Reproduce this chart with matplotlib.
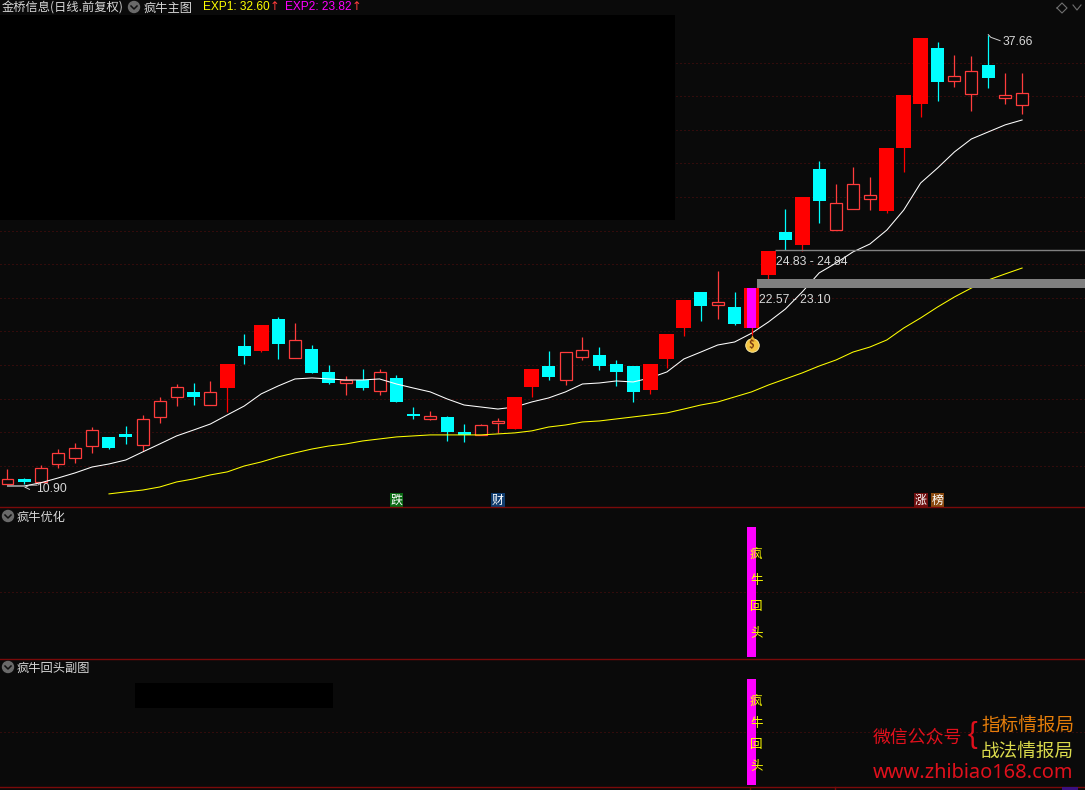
import matplotlib
matplotlib.use('Agg')
import matplotlib.pyplot as plt
from matplotlib.patches import Rectangle, Ellipse

plt.rcParams['font.family'] = ['Noto Sans CJK SC', 'DejaVu Sans']

# Daily candles
opens = [10.92, 11.22, 11.04, 12.11, 12.47, 13.18, 13.72, 13.90, 13.24, 14.91,
         16.10, 16.40, 15.62, 16.63, 19.13, 18.83, 20.74, 18.42, 18.95, 17.59,
         16.93, 17.11, 16.45, 17.23, 15.09, 14.79, 14.91, 14.02, 13.84, 14.55,
         14.19, 16.69, 17.94, 17.11, 18.48, 18.60, 18.06, 17.94, 16.51, 18.36,
         20.20, 22.35, 21.57, 21.45, 20.20, 23.36, 25.92, 25.14, 29.66, 26.03,
         27.28, 27.88, 27.17, 30.91, 33.53, 36.86, 34.90, 34.13, 35.85, 33.89, 33.47]
closes = [11.22, 11.04, 11.87, 12.77, 13.06, 14.13, 13.06, 13.72, 14.79, 15.86,
          16.69, 16.10, 16.40, 18.06, 18.54, 20.38, 19.25, 19.49, 17.53, 16.93,
          17.11, 16.63, 17.59, 15.80, 14.97, 14.97, 14.02, 13.84, 14.43, 14.67,
          16.10, 17.76, 17.29, 18.77, 18.89, 17.94, 17.59, 16.40, 18.06, 19.85,
          21.87, 21.51, 21.75, 20.44, 22.57, 24.77, 25.44, 28.00, 27.76, 27.64,
          28.77, 28.12, 30.91, 34.07, 37.46, 34.84, 35.20, 35.50, 35.08, 34.07, 34.19]
highs = [11.81, 11.28, 12.05, 13.00, 13.36, 14.31, 13.72, 14.37, 15.03, 16.10,
         16.87, 16.93, 17.05, 18.06, 19.85, 20.38, 20.86, 20.50, 19.19, 18.00,
         17.35, 17.76, 17.76, 17.41, 15.50, 15.27, 14.97, 14.49, 14.49, 14.85,
         16.10, 17.76, 18.83, 18.77, 19.67, 19.07, 18.30, 17.94, 18.06, 19.85,
         21.87, 22.35, 23.60, 22.35, 22.57, 24.77, 27.28, 28.00, 30.14, 28.77,
         29.78, 29.19, 30.91, 34.07, 37.46, 37.22, 36.45, 36.39, 37.66, 35.38, 35.38]
lows = [10.92, 10.90, 11.04, 11.87, 12.17, 12.77, 13.00, 13.30, 12.89, 14.55,
        15.56, 15.62, 15.62, 15.21, 18.06, 18.77, 18.36, 18.42, 17.53, 16.87,
        16.22, 16.51, 16.22, 15.80, 14.79, 14.73, 13.48, 13.42, 13.84, 13.96,
        14.19, 16.10, 17.11, 16.81, 18.30, 17.70, 16.75, 15.80, 16.28, 17.82,
        19.73, 20.62, 20.74, 20.38, 19.79, 23.06, 24.84, 24.77, 26.45, 26.03,
        27.28, 27.22, 27.05, 29.49, 32.76, 33.71, 34.54, 33.12, 34.48, 33.53, 32.94]
# up days drawn as filled bars instead of hollow boxes
solid_days = [13, 15, 30, 31, 38, 39, 40, 44, 45, 47, 52, 53, 54]

# EXP1 (white) from the first day, EXP2 (yellow) from day 6
exp1 = [10.80, 10.80, 11.00, 11.28, 11.58, 11.93, 12.11, 12.35, 12.83, 13.30,
        13.78, 14.13, 14.49, 15.03, 15.56, 16.28, 16.75, 17.17, 17.23, 17.17,
        17.11, 17.11, 17.17, 16.87, 16.63, 16.40, 15.98, 15.62, 15.50, 15.38,
        15.50, 15.80, 16.04, 16.40, 16.87, 16.93, 17.05, 16.99, 17.23, 17.59,
        18.36, 18.77, 19.19, 19.37, 19.89, 20.56, 21.33, 22.35, 23.48, 24.07,
        24.73, 25.20, 26.03, 27.22, 28.83, 29.72, 30.68, 31.45, 31.87, 32.29, 32.58]
exp2 = [10.33, 10.45, 10.56, 10.74, 11.04, 11.22, 11.46, 11.64, 11.99, 12.23,
        12.53, 12.77, 13.00, 13.18, 13.30, 13.48, 13.60, 13.72, 13.78, 13.84,
        13.84, 13.84, 13.84, 13.90, 13.96, 14.08, 14.31, 14.43, 14.61, 14.67,
        14.79, 14.91, 15.03, 15.15, 15.38, 15.62, 15.80, 16.10, 16.40, 16.81,
        17.17, 17.53, 17.94, 18.30, 18.77, 19.07, 19.49, 20.20, 20.80, 21.45,
        22.05, 22.58, 23.06, 23.42, 23.77]
exp2_start = 6

price_grid = [12, 14, 16, 18, 20, 22, 24, 26, 28, 30, 32, 34, 36]
signal_day = 44
zone_low = [22.57, 23.10]
zone_high = [24.83, 24.84]
signal_chars = ['疯', '牛', '回', '头']
badge_days = [23, 29, 54, 55]
badge_chars = ['跌', '财', '涨', '榜']
badge_colors = ['#0a6a14', '#0f3c6e', '#6e0f0f', '#8a4a10']

W, H = 1085, 790
BG = '#0a0a0a'
RED = '#ff3c3c'
LINE = '#7a0a0a'
GRID = '#5a0f0f'
STEP = 16.91  # pixels per day
XLIM = (-7.5 / STEP, (W - 7.5) / STEP)
DOTS = (0, (1, 3))


def panel(top, bottom, ylim):
    a = fig.add_axes([0, 1 - bottom / H, 1, (bottom - top) / H], facecolor=BG)
    a.set_xlim(*XLIM)
    a.set_ylim(*ylim)
    a.axis('off')
    return a


def label(x, y, s, color='#d8d8d8', size=8.8, **kw):
    # x, y in picture pixels
    kw.setdefault('va', 'center')
    fig.text(x / W, 1 - y / H, s, color=color, fontsize=size, **kw)


def chevron(x, y):
    fig.add_artist(Ellipse((x / W, 1 - y / H), 11 / W, 11 / H, color='#6a6a6a',
                           transform=fig.transFigure, zorder=5))
    fig.add_artist(plt.Line2D([(x - 3) / W, x / W, (x + 3) / W],
                              [1 - (y - 1) / H, 1 - (y + 2) / H, 1 - (y - 1) / H],
                              color='#101010', lw=1.1, zorder=6))


fig = plt.figure(figsize=(W / 100, H / 100), dpi=100, facecolor=BG)

# Main panel -----------------------------------------------------------------
ax = panel(0, 507, (9.55, 39.72))
ax.hlines(price_grid, *XLIM, color=GRID, lw=0.72, linestyles=DOTS, zorder=1)

days = list(range(len(opens)))
for i in days:
    up = closes[i] >= opens[i]
    solid = i in solid_days
    col = '#00ffff' if not up else ('#ff0000' if solid else RED)
    z = 4 if solid else 2
    ax.vlines(i, lows[i], highs[i], color=col, lw=0.9, zorder=z - 0.5)
    low_body, high_body = min(opens[i], closes[i]), max(opens[i], closes[i])
    if up and not solid:
        ax.bar(i, high_body - low_body, bottom=low_body, width=12 / STEP,
               facecolor=BG, edgecolor=RED, linewidth=0.9, zorder=z)
    else:
        ax.bar(i, high_body - low_body, bottom=low_body,
               width=(15 if solid else 13) / STEP, color=col, linewidth=0, zorder=z)

ax.plot(days, exp1, color='#ffffff', lw=0.75, zorder=3)
ax.plot(days[exp2_start:], exp2, color='#ffff00', lw=0.75, zorder=3)

# signal day: magenta core inside the red bar
ax.bar(signal_day, closes[signal_day] - opens[signal_day], bottom=opens[signal_day],
       width=9 / STEP, color='#ff00ff', linewidth=0, zorder=5)

# support zones run from the signal out to the right edge
ax.fill_between([signal_day + 0.35, XLIM[1]], zone_low[0], zone_low[1],
                color='#808080', linewidth=0, zorder=6)
ax.hlines(zone_high[0], signal_day + 1.4, XLIM[1], color='#808080', lw=1.0, zorder=6)
ax.text(signal_day + 0.45, 21.88, '%.2f - %.2f' % tuple(zone_low), color='#d8d8d8',
        fontsize=8.7, family='Liberation Sans', va='center', zorder=7)
ax.text(signal_day + 1.45, 24.12, '%.2f - %.2f' % tuple(zone_high), color='#d8d8d8',
        fontsize=8.7, family='Liberation Sans', va='center', zorder=7)

# high and low callouts
ax.plot([58, 58.15, 58.7], [37.66, 37.5, 37.3], color='#d0d0d0', lw=0.7, zorder=7)
ax.text(58.85, 37.25, '%.2f' % max(highs), color='#d8d8d8', fontsize=8.7,
        family='Liberation Sans', va='center', zorder=7)
ax.plot([1.05, 1.3, 1.75], [10.72, 10.85, 10.85], color='#d0d0d0', lw=0.7, zorder=7)
ax.plot([1.05, 1.3], [10.72, 10.6], color='#d0d0d0', lw=0.7, zorder=7)
ax.text(1.72, 10.65, '%.2f' % min(lows), color='#d8d8d8', fontsize=8.7,
        family='Liberation Sans', va='center', zorder=7)

# money bag under the signal day
ax.scatter(signal_day, 19.2, s=95, color='#f5c542', edgecolor='#fff2b0', lw=0.6, zorder=8)
ax.scatter(signal_day, 19.62, s=22, marker='^', color='#e8b030', lw=0, zorder=8)
ax.text(signal_day, 19.18, '$', color='#7a3a10', fontsize=6.8, fontweight='bold',
        ha='center', va='center', zorder=9)

# news badges along the bottom of the panel
for d, s, bg in zip(badge_days, badge_chars, badge_colors):
    ax.text(d, 9.93, s, color='#ffffff', fontsize=8.6, ha='center', va='center', zorder=7,
            bbox=dict(boxstyle='square,pad=0.08', fc=bg, ec='none'))

# Lower panels ---------------------------------------------------------------
ax2 = panel(507, 659, (-0.015, 1.154))
ax3 = panel(659, 787, (-0.019, 1.189))
for a in (ax2, ax3):
    a.hlines(0.5, *XLIM, color=GRID, lw=0.72, linestyles=DOTS, zorder=1)
    a.bar(signal_day, 1, width=9 / STEP, color='#ff00ff', linewidth=0, zorder=2)
    for s, y in zip(signal_chars, [0.785, 0.585, 0.385, 0.185]):
        a.text(signal_day + 0.27, y, s, color='#ffff00', fontsize=9,
               ha='center', va='center', zorder=3)

# panel borders and redaction blocks
for y in (507, 659, 787):
    fig.add_artist(plt.Line2D([0, 1], [1 - y / H, 1 - y / H], color=LINE, lw=1.0, zorder=4))
for x, y, w, h in [(0, 15, 675, 205), (135, 683, 198, 25)]:
    fig.add_artist(Rectangle((x / W, 1 - (y + h) / H), w / W, h / H, color='#000000',
                             lw=0, transform=fig.transFigure, zorder=4))
fig.add_artist(Rectangle((1062 / W, 0), 16 / W, 3 / H, color='#3a1080', lw=0,
                         transform=fig.transFigure, zorder=4))
for x in (750, 835):
    fig.add_artist(plt.Line2D([x / W, x / W], [0, 3 / H], color=LINE, lw=1.0, zorder=4))

# Header ---------------------------------------------------------------------
label(2, 8, '金桥信息(日线.前复权)', size=8.8)
chevron(134, 7)
label(144, 8, '疯牛主图', size=8.8)
label(203, 7, 'EXP1: 32.60', color='#ffff00', size=8.6, family='Liberation Sans')
label(270, 7, '↑', color=RED, size=8.4, family='DejaVu Sans')
label(285, 7, 'EXP2: 23.82', color='#ff00ff', size=8.6, family='Liberation Sans')
label(352, 7, '↑', color=RED, size=8.4, family='DejaVu Sans')
fig.add_artist(plt.Line2D([1057 / W, 1062 / W, 1067 / W, 1062 / W, 1057 / W],
                          [1 - 8 / H, 1 - 3 / H, 1 - 8 / H, 1 - 13 / H, 1 - 8 / H],
                          color='#707070', lw=0.8))
fig.add_artist(plt.Line2D([1073 / W, 1077 / W, 1081 / W],
                          [1 - 5 / H, 1 - 10 / H, 1 - 5 / H], color='#707070', lw=0.8))
chevron(8, 516)
label(17, 517, '疯牛优化', size=8.8)
chevron(8, 667)
label(17, 668, '疯牛回头副图', size=8.8)

# Watermark ------------------------------------------------------------------
label(873, 738, '微信公众号', color='#e0101c', size=12.9, zorder=8)
label(972, 735, '{', color='#e0101c', size=21, family='Liberation Sans', ha='center', zorder=8)
label(981, 726, '指标情报局', color='#e67e0a', size=13.4, zorder=8)
label(981, 752, '战法情报局', color='#dada4c', size=13.4, zorder=8)
label(873, 773, 'www.zhibiao168.com', color='#e0101c', size=14.4, family='Noto Sans', zorder=8)

fig.savefig('out.png', dpi=100, facecolor=BG)
